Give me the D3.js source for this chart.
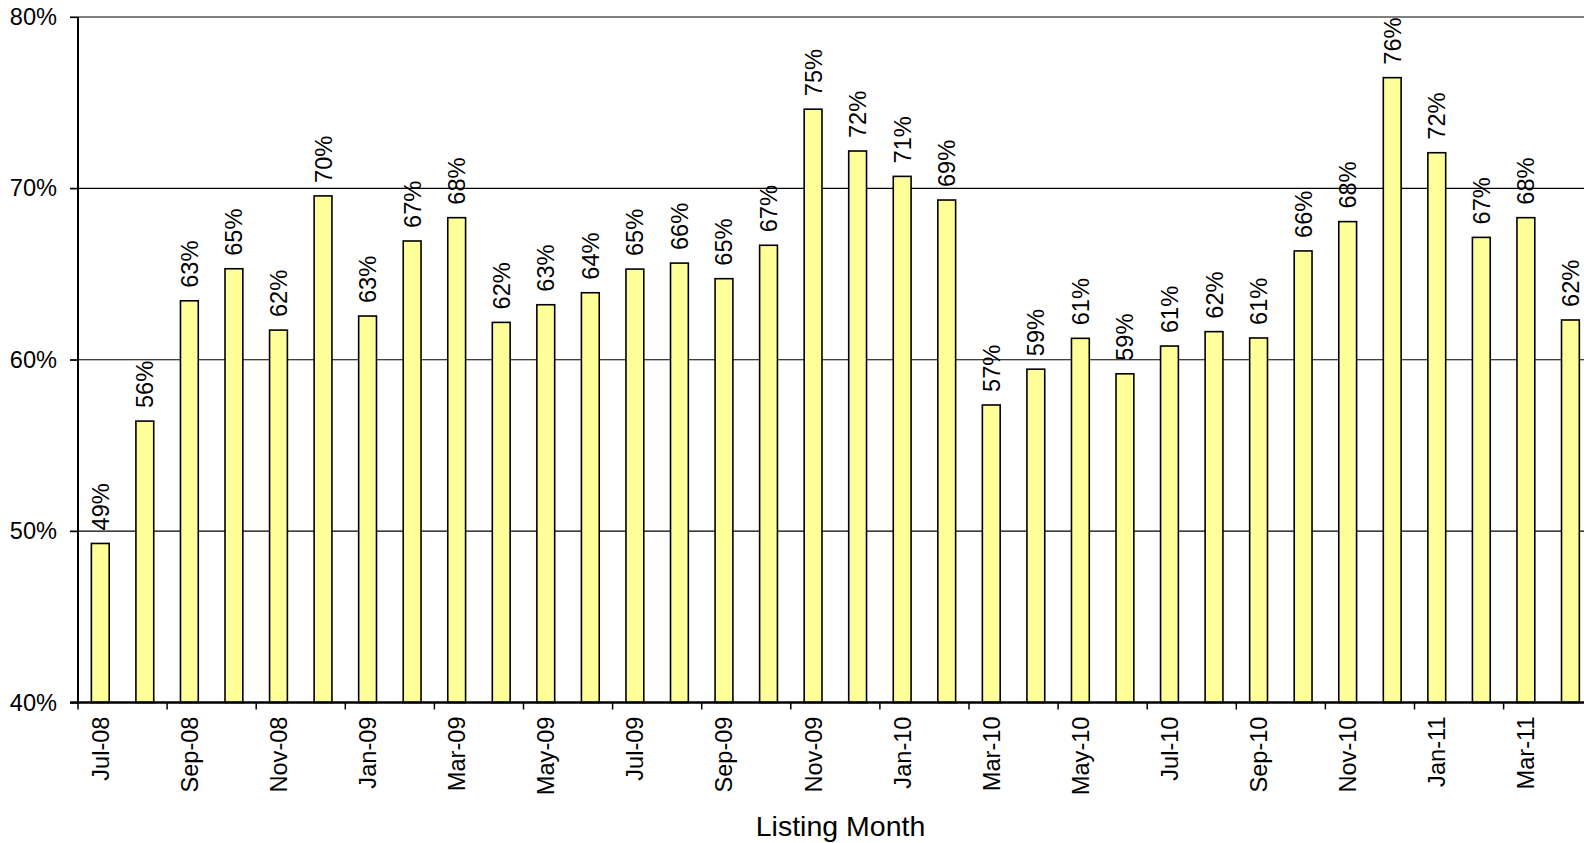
<!DOCTYPE html>
<html>
<head>
<meta charset="utf-8">
<script src="https://cdn.jsdelivr.net/npm/d3@7"></script>
<style>
  html, body { margin: 0; padding: 0; background: #fff; overflow: hidden; }
  svg { display: block; font-family: "Liberation Sans", Arial, sans-serif; }
</style>
</head>
<body>
<svg id="chart" width="1584" height="843"></svg>
<script>
const months = ["Jul-08","Aug-08","Sep-08","Oct-08","Nov-08","Dec-08",
  "Jan-09","Feb-09","Mar-09","Apr-09","May-09","Jun-09","Jul-09","Aug-09","Sep-09","Oct-09","Nov-09","Dec-09",
  "Jan-10","Feb-10","Mar-10","Apr-10","May-10","Jun-10","Jul-10","Aug-10","Sep-10","Oct-10","Nov-10","Dec-10",
  "Jan-11","Feb-11","Mar-11","Apr-11"];
const values = [49.28, 56.42, 63.44, 65.31, 61.73, 69.56,
  62.55, 66.93, 68.29, 62.18, 63.21, 63.91, 65.29, 65.64, 64.73, 66.68, 74.62, 72.18,
  70.70, 69.32, 57.36, 59.45, 61.25, 59.18, 60.80, 61.64, 61.27, 66.35, 68.06, 76.46,
  72.08, 67.14, 68.29, 62.32];
const yTicks = [40, 50, 60, 70, 80];
const xTickLabels = months.filter((m, i) => i % 2 === 0);
const xTitle = "Listing Month";

(function () {
const svg = d3.select("#chart");
const mLeft = 78, mTop = 17, mBottom = 702.5;
const step = 44.55;
const mRight = mLeft + step * months.length;
const fs = 23.6;

const x = d3.scaleBand().domain(months).range([mLeft, mRight])
  .paddingInner(0.6).paddingOuter(0.3);
const y = d3.scaleLinear().domain([40, 80]).range([mBottom, mTop]);
const gap = (x.step() - x.bandwidth()) / 2;

// gridlines
svg.append("g").selectAll("line").data(yTicks.filter(t => t > 40)).join("line")
  .attr("x1", mLeft - 8).attr("x2", 1584)
  .attr("y1", d => y(d)).attr("y2", d => y(d))
  .attr("stroke", "#000").attr("stroke-width", 1.2);

// y axis
const yAxis = d3.axisLeft(y).tickValues(yTicks).tickFormat(d => d + "%").tickSize(8).tickPadding(13);
const gy = svg.append("g").attr("transform", `translate(${mLeft},0)`).call(yAxis);
gy.select(".domain").remove();
gy.selectAll(".tick line").attr("stroke", "#000").attr("stroke-width", 1.2);
gy.selectAll(".tick text").attr("font-size", fs).attr("fill", "#000")
  .attr("font-family", "'Liberation Sans', Arial, sans-serif");
svg.append("line").attr("x1", mLeft).attr("x2", mLeft).attr("y1", mTop).attr("y2", mBottom)
  .attr("stroke", "#000").attr("stroke-width", 2);

// bars
svg.append("g").selectAll("rect").data(months).join("rect")
  .attr("x", d => x(d))
  .attr("width", x.bandwidth())
  .attr("y", (d, i) => y(values[i]))
  .attr("height", (d, i) => mBottom - y(values[i]))
  .attr("fill", "#FFFF99").attr("stroke", "#000").attr("stroke-width", 1.6);

// value labels
svg.append("g").selectAll("text").data(months).join("text")
  .attr("transform", (d, i) => `translate(${x(d) + x.bandwidth() / 2},${y(values[i]) - 13}) rotate(-90)`)
  .attr("dy", "0.36em")
  .attr("text-anchor", "start")
  .attr("font-size", fs).attr("fill", "#000")
  .text((d, i) => Math.round(values[i]) + "%");

// x axis line
svg.append("line").attr("x1", mLeft - 8).attr("x2", 1584).attr("y1", mBottom).attr("y2", mBottom)
  .attr("stroke", "#000").attr("stroke-width", 2.4);

// x ticks at every other category boundary
svg.append("g").selectAll("line").data(xTickLabels).join("line")
  .attr("x1", d => x(d) - gap).attr("x2", d => x(d) - gap)
  .attr("y1", mBottom).attr("y2", mBottom + 7)
  .attr("stroke", "#000").attr("stroke-width", 1.5);

// x tick labels
svg.append("g").selectAll("text").data(xTickLabels).join("text")
  .attr("transform", d => `translate(${x(d) + x.bandwidth() / 2},${mBottom + 14}) rotate(-90)`)
  .attr("dy", "0.36em")
  .attr("text-anchor", "end")
  .attr("font-size", fs).attr("fill", "#000")
  .text(d => d);

// x title
svg.append("text").attr("x", 840.5).attr("y", 836)
  .attr("text-anchor", "middle").attr("font-size", 28.5).attr("fill", "#000")
  .text(xTitle);
})();
</script>
</body>
</html>
